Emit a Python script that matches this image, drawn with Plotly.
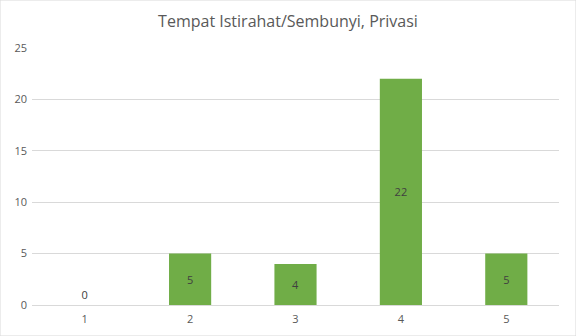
import plotly.graph_objects as go

categories = ["1", "2", "3", "4", "5"]
values = [0, 5, 4, 22, 5]
y_ticks = [0, 5, 10, 15, 20, 25]
title_text = "Tempat Istirahat/Sembunyi, Privasi"

positions = ["outside" if v == 0 else "inside" for v in values]
FONT = "Open Sans, Liberation Sans, sans-serif"

fig = go.Figure(go.Bar(
    x=categories, y=values,
    marker=dict(color="#70AD47", line=dict(width=0)),
    width=0.4,
    text=[str(v) for v in values],
    textposition=positions,
    insidetextanchor="middle",
    textfont=dict(family=FONT, size=11, color="#404040"),
    cliponaxis=False,
))

fig.update_layout(
    width=576, height=336,
    margin=dict(l=32, r=17, t=48, b=31),
    paper_bgcolor="white", plot_bgcolor="white",
    title=dict(text=title_text, x=0.5, xanchor="center", y=0.935, yanchor="middle",
               font=dict(family=FONT, size=16, color="#595959")),
    showlegend=False,
    xaxis=dict(type="category", showgrid=False, showline=True, linecolor="#D9D9D9", linewidth=1,
               ticks="", ticklabelstandoff=4, automargin=False,
               tickfont=dict(family=FONT, size=11, color="#595959")),
    yaxis=dict(range=[0, 25], tickvals=y_ticks, showgrid=True, gridcolor="#D9D9D9", gridwidth=1,
               zeroline=False, showline=False, ticks="", ticklabelstandoff=4, automargin=False,
               tickfont=dict(family=FONT, size=11, color="#595959")),
)
# outer border
fig.add_shape(type="rect", xref="paper", yref="paper", x0=-32/527, x1=1+17/527,
              y0=-31/257, y1=1+48/257, line=dict(color="#D9D9D9", width=1))

fig.write_html("out.html")
